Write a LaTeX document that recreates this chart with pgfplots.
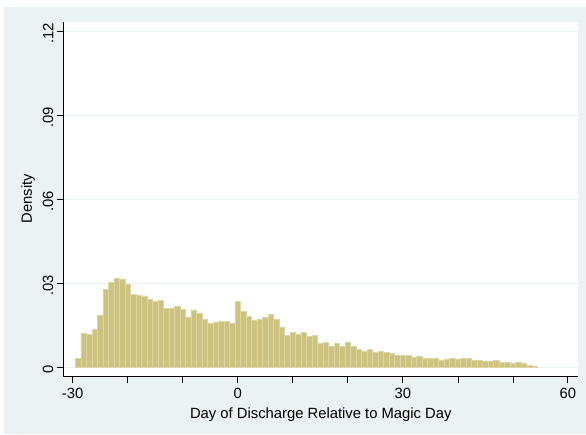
\documentclass[border=0pt]{standalone}
\usepackage{pgfplots}
\pgfplotsset{compat=1.18}
\usepackage{fontspec}
\setmainfont{Liberation Sans}
\definecolor{bgc}{RGB}{234,242,243}
\definecolor{barc}{RGB}{205,195,128}
\definecolor{barl}{RGB}{222,214,162}
\definecolor{gridc}{RGB}{234,242,243}
\begin{document}
\begin{tikzpicture}
\fill[white] (-63.3pt,-58pt) rectangle (522.7pt,376pt);
\fill[bgc] (-58.8pt,-58pt) rectangle (522.7pt,369.3pt);
\begin{axis}[
  at={(0pt,0pt)}, anchor=south west,
  scale only axis, width=515pt, height=354.3pt,
  xmin=-31.7, xmax=61.9, ymin=-0.003, ymax=0.1236,
  axis lines*=left,
  axis line style={line width=0.8pt, black},
  axis background/.style={fill=white},
  tick align=outside,
  major tick length=6.5pt, minor tick length=6.5pt,
  tick style={line width=0.8pt, black},
  minor tick style={line width=0.6pt, black},
  xtick={-30,0,30,60}, xticklabels={-30,0,30,60},
  minor xtick={-20,-10,10,20,40,50},
  ytick={0,0.03,0.06,0.09,0.12}, yticklabels={0,.03,.06,.09,.12},
  yticklabel style={rotate=90, anchor=south, xshift=-1.5pt},
  xticklabel style={yshift=-2pt},
  ymajorgrids, grid style={gridc, line width=1.2pt},
  font=\fontsize{14.8}{17}\selectfont,
  xlabel={Day of Discharge Relative to Magic Day},
  ylabel={Density},
  xlabel style={yshift=-2pt},
  ylabel style={yshift=1pt},
]
\addplot[ybar, bar width=1, bar shift=0pt, fill=barc, draw=barl, line width=0.6pt] coordinates {
(-29,0.0033) (-28,0.0123) (-27,0.0119) (-26,0.0136) (-25,0.0187) (-24,0.0279)
(-23,0.0304) (-22,0.0318) (-21,0.0317) (-20,0.0298) (-19,0.0263) (-18,0.0259)
(-17,0.0256) (-16,0.0243) (-15,0.0238) (-14,0.0240) (-13,0.0211) (-12,0.0211)
(-11,0.0219) (-10,0.0208) (-9,0.0181) (-8,0.0206) (-7,0.0193) (-6,0.0172)
(-5,0.0157) (-4,0.0162) (-3,0.0165) (-2,0.0164) (-1,0.0157) (0,0.0236)
(1,0.0202) (2,0.0184) (3,0.0170) (4,0.0173) (5,0.0178) (6,0.0190)
(7,0.0173) (8,0.0144) (9,0.0116) (10,0.0126) (11,0.0119) (12,0.0127)
(13,0.0111) (14,0.0115) (15,0.0088) (16,0.0091) (17,0.0077) (18,0.0087)
(19,0.0077) (20,0.0089) (21,0.0077) (22,0.0065) (23,0.0060) (24,0.0064)
(25,0.0053) (26,0.0059) (27,0.0053) (28,0.0050) (29,0.0043) (30,0.0044)
(31,0.0044) (32,0.0038) (33,0.0039) (34,0.0033) (35,0.0032) (36,0.0032)
(37,0.0027) (38,0.0031) (39,0.0033) (40,0.0031) (41,0.0033) (42,0.0032)
(43,0.0027) (44,0.0026) (45,0.0021) (46,0.0024) (47,0.0026) (48,0.0020)
(49,0.0019) (50,0.0017) (51,0.0019) (52,0.0015) (53,0.0007) (54,0.0005)
};
\end{axis}
\end{tikzpicture}
\end{document}
